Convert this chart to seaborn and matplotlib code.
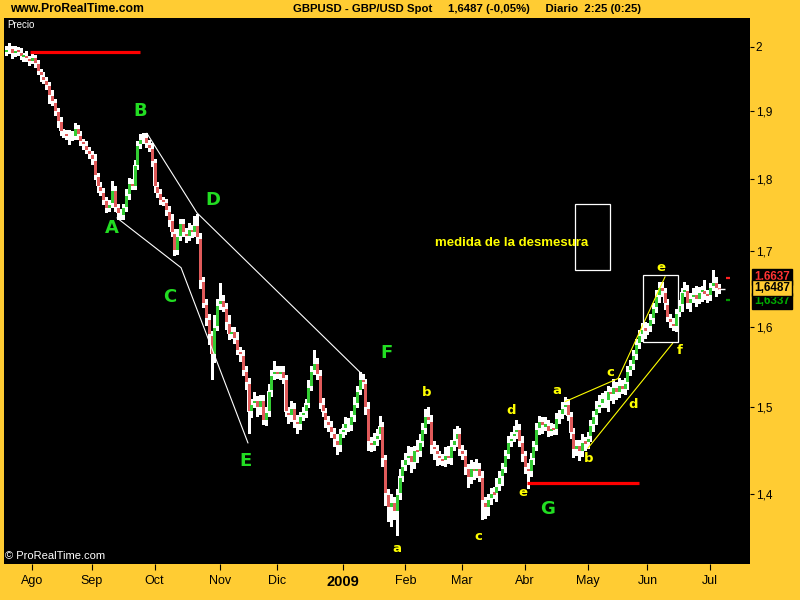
import numpy as np
import pandas as pd
import matplotlib
matplotlib.use("Agg")
import matplotlib.pyplot as plt
import matplotlib.patches as mpatches
import seaborn as sns

# ---------------- data ----------------
close = [
    1.995, 1.998, 1.990, 1.996, 1.993, 1.985, 1.988, 1.982, 1.978, 1.984,
    1.975, 1.962, 1.955, 1.948, 1.940, 1.925, 1.915, 1.900, 1.885, 1.870,
    1.867, 1.863, 1.866, 1.862, 1.875, 1.865, 1.855, 1.850, 1.842, 1.836,
    1.828, 1.805, 1.790, 1.782, 1.770, 1.758, 1.765, 1.785, 1.760, 1.752,
    1.748, 1.760, 1.778, 1.795, 1.790, 1.820, 1.850, 1.858, 1.862, 1.852,
    1.845, 1.825, 1.790, 1.780, 1.770, 1.768, 1.755, 1.742, 1.725, 1.700,
    1.720, 1.738, 1.725, 1.720, 1.730, 1.725, 1.735, 1.718, 1.660, 1.630,
    1.610, 1.590, 1.565, 1.600, 1.628, 1.635, 1.625, 1.605, 1.590, 1.595,
    1.585, 1.570, 1.565, 1.545, 1.530, 1.495, 1.505, 1.510, 1.500, 1.510,
    1.485, 1.495, 1.520, 1.540, 1.545, 1.540, 1.545, 1.535, 1.495, 1.490,
    1.500, 1.485, 1.480, 1.490, 1.495, 1.505, 1.525, 1.545, 1.555, 1.540,
    1.505, 1.495, 1.485, 1.478, 1.470, 1.462, 1.455, 1.470, 1.475, 1.482,
    1.478, 1.490, 1.505, 1.520, 1.535, 1.530, 1.500, 1.460, 1.455, 1.462,
    1.468, 1.478, 1.440, 1.400, 1.385, 1.392, 1.380, 1.400, 1.420, 1.432,
    1.440, 1.445, 1.435, 1.450, 1.448, 1.460, 1.475, 1.490, 1.485, 1.455,
    1.450, 1.445, 1.440, 1.438, 1.445, 1.440, 1.455, 1.462, 1.470, 1.450,
    1.445, 1.430, 1.418, 1.430, 1.425, 1.430, 1.420, 1.392, 1.385, 1.395,
    1.402, 1.400, 1.410, 1.420, 1.430, 1.445, 1.460, 1.465, 1.470, 1.475,
    1.460, 1.445, 1.430, 1.425, 1.440, 1.455, 1.475, 1.485, 1.478, 1.480,
    1.472, 1.476, 1.474, 1.488, 1.492, 1.500, 1.505, 1.490, 1.470, 1.450,
    1.456, 1.448, 1.460, 1.458, 1.465, 1.480, 1.490, 1.500, 1.505, 1.512,
    1.508, 1.520, 1.515, 1.525, 1.518, 1.528, 1.522, 1.530, 1.545, 1.552,
    1.565, 1.578, 1.590, 1.598, 1.596, 1.600, 1.610, 1.625, 1.640, 1.652,
    1.645, 1.630, 1.612, 1.605, 1.600, 1.618, 1.628, 1.645, 1.648, 1.630,
    1.638, 1.642, 1.635, 1.645, 1.648, 1.642, 1.640, 1.652, 1.658, 1.650,
    1.6487,
]
first_open = 1.993

# wick lengths in thousandths above / below the body
wick_up = [
    6, 8, 4, 5, 4, 6, 3, 5, 4, 5,   4, 5, 3, 6, 4, 5, 8, 4, 5, 6,
    4, 5, 6, 4, 8, 4, 5, 4, 6, 4,   5, 8, 4, 6, 5, 4, 5, 12, 5, 4,
    6, 4, 8, 6, 5, 7, 5, 8, 6, 5,   5, 8, 4, 6, 5, 5, 4, 6, 8, 5,
    9, 6, 5, 6, 8, 5, 12, 15, 6, 4, 5, 6, 4, 15, 8, 22, 6, 5, 10, 4,
    5, 8, 4, 5, 5, 6, 5, 8, 4, 5,   5, 6, 8, 6, 12, 6, 5, 5, 4, 6,
    8, 5, 6, 5, 6, 5, 8, 6, 15, 5,  5, 6, 4, 5, 6, 5, 6, 4, 5, 6,
    5, 6, 8, 6, 8, 5, 4, 6, 5, 8,   6, 12, 5, 4, 6, 8, 5, 5, 8, 6,
    6, 10, 8, 5, 12, 8, 6, 8, 10, 6, 5, 6, 4, 5, 8, 10, 6, 12, 8, 5,
    6, 5, 4, 8, 6, 10, 5, 6, 4, 5,  5, 6, 8, 6, 5, 5, 6, 6, 8, 10,
    5, 6, 4, 5, 6, 5, 6, 5, 4, 8,   5, 6, 4, 5, 5, 6, 8, 5, 4, 5,
    6, 5, 8, 5, 6, 5, 6, 8, 10, 5,  8, 6, 5, 10, 6, 8, 5, 6, 5, 6,
    5, 6, 5, 6, 8, 5, 6, 5, 8, 6,   6, 5, 5, 4, 6, 5, 6, 5, 10, 6,
    5, 8, 10, 6, 5, 12, 6, 5, 16, 6,
    5,
]
wick_dn = [
    5, 4, 8, 5, 6, 4, 8, 5, 6, 4,   6, 5, 8, 4, 6, 12, 5, 6, 8, 5,
    6, 4, 12, 5, 4, 6, 5, 6, 4, 5,  6, 5, 8, 5, 6, 5, 4, 5, 6, 8,
    5, 4, 5, 6, 5, 4, 6, 5, 5, 6,   5, 6, 8, 5, 6, 5, 6, 8, 5, 6,
    5, 6, 5, 8, 5, 6, 5, 8, 10, 5,  8, 12, 30, 10, 5, 6, 5, 8, 6, 5,
    6, 5, 8, 6, 8, 25, 6, 5, 10, 8, 5, 6, 5, 6, 5, 4, 5, 6, 5, 8,
    6, 8, 10, 6, 5, 6, 5, 4, 5, 6,  6, 5, 8, 6, 5, 8, 10, 6, 5, 6,
    6, 5, 6, 5, 4, 6, 8, 10, 6, 5,  6, 5, 8, 12, 15, 20, 8, 25, 6, 5,
    5, 6, 10, 6, 12, 5, 6, 5, 4, 8, 10, 12, 6, 5, 6, 5, 6, 5, 8, 6,
    6, 8, 10, 6, 8, 6, 5, 20, 12, 8, 6, 5, 8, 6, 10, 5, 4, 6, 5, 6,
    5, 8, 6, 18, 5, 6, 5, 6, 8, 5,  6, 5, 6, 5, 6, 5, 8, 5, 6, 8,
    6, 10, 5, 8, 6, 5, 8, 10, 6, 5, 8, 12, 6, 10, 8, 6, 5, 6, 8, 6,
    5, 6, 5, 8, 10, 5, 6, 5, 6, 8,  6, 8, 5, 6, 5, 6, 5, 8, 5, 6,
    10, 6, 8, 5, 12, 6, 8, 6, 5, 10,
    5,
]

month_labels = ["Ago", "Sep", "Oct", "Nov", "Dic", "2009",
                "Feb", "Mar", "Abr", "May", "Jun", "Jul"]
month_start_idx = [9, 30, 52, 75, 95, 118, 140, 160, 182, 204, 225, 247]

y_ticks = [1.4, 1.5, 1.6, 1.7, 1.8, 1.9, 2.0]
y_tick_labels = ["1,4", "1,5", "1,6", "1,7", "1,8", "1,9", "2"]

last_price = 1.6487
upper_mark = 1.6637
lower_mark = 1.6337

# annotation lines (index, price)
white_line1_x = [38.8, 61.3, 84.8]
white_line1_y = [1.745, 1.677, 1.458]
white_line2_x = [49.3, 66.9, 125.5]
white_line2_y = [1.867, 1.752, 1.538]
yellow_line1_x = [196.1, 214.7, 231.2]
yellow_line1_y = [1.507, 1.535, 1.665]
yellow_line2_x = [204.1, 233.9]
yellow_line2_y = [1.452, 1.579]

# ---------------- figure ----------------
GOLD = "#ffcc33"
GREEN_C = "#33cc33"
RED_C = "#e05a5a"

sns.set_style("dark", rc={"axes.facecolor": "black", "figure.facecolor": GOLD,
                          "axes.edgecolor": "black", "grid.color": "black"})
plt.rcParams["font.family"] = ["Liberation Sans Narrow", "Liberation Sans", "DejaVu Sans"]

W, H = 800, 600
fig = plt.figure(figsize=(8, 6), dpi=100)
fig.patch.set_facecolor(GOLD)
ax = fig.add_axes([4 / W, 1 - 564 / H, (750 - 4) / W, (564 - 18) / H])
ax.set_facecolor("black")


def fpx(x, y):
    return x / W, 1 - y / H


n = len(close)
idx = np.arange(n)
opn = [first_open] + close[:-1]
df = pd.DataFrame({"idx": idx, "open": opn, "close": close})
df["body_hi"] = df[["open", "close"]].max(axis=1)
df["body_lo"] = df[["open", "close"]].min(axis=1)
df["high"] = df["body_hi"] + np.array(wick_up[:n]) / 1000.0
df["low"] = df["body_lo"] - np.array(wick_dn[:n]) / 1000.0
df["up"] = df["close"] >= df["open"]

ax.vlines(df["idx"], df["low"], df["high"], color="white", lw=0.75, zorder=2,
          antialiased=False)
body_h = np.maximum(df["body_hi"] - df["body_lo"], 0.0015)
ax.bar(df["idx"], body_h, bottom=df["body_lo"], width=0.82, color="white",
       linewidth=0, zorder=3, antialiased=False)
ax.vlines(df["idx"], df["body_lo"] + 0.0018, df["body_hi"] - 0.0018,
          colors=np.where(df["up"], GREEN_C, RED_C), lw=0.75, zorder=4,
          antialiased=False)

# trend / channel lines via seaborn
for xs, ys, col in [(white_line1_x, white_line1_y, "white"),
                    (white_line2_x, white_line2_y, "white"),
                    (yellow_line1_x, yellow_line1_y, "#ffff00"),
                    (yellow_line2_x, yellow_line2_y, "#ffff00")]:
    sns.lineplot(x=xs, y=ys, ax=ax, color=col, lw=0.8, sort=False,
                 estimator=None, zorder=5)

# red horizontal lines
ax.hlines(1.992, 8.3, 46.9, color="#ff0000", lw=2.3, zorder=5)
ax.hlines(1.412, 182.7, 222.0, color="#ff0000", lw=2.3, zorder=5)

# rectangles
ax.add_patch(mpatches.Rectangle((199.6, 1.674), 12.3, 0.090, fill=False,
                                edgecolor="white", lw=0.9, zorder=5))
ax.add_patch(mpatches.Rectangle((223.4, 1.580), 12.3, 0.087, fill=False,
                                edgecolor="white", lw=0.9, zorder=5))

# last price markers
ax.hlines(last_price, n - 1 - 0.3, n + 1.3, color="white", lw=1.0, zorder=6)
ax.hlines(upper_mark, n + 1.5, n + 3.0, color="#ff2222", lw=1.6, zorder=6)
ax.hlines(lower_mark, n + 1.5, n + 3.0, color="#009900", lw=1.6, zorder=6)

ax.set_yscale("log")
ax.set_ylim(1.3238, 2.0468)
ax.set_xlim(-0.84, 261)
ax.grid(False)
ax.minorticks_off()
ax.yaxis.tick_right()
ax.set_yticks(y_ticks)
ax.set_yticklabels(y_tick_labels)
ax.set_xticks(month_start_idx)
ax.set_xticklabels(month_labels)
ax.tick_params(axis="y", which="both", right=True, left=False, length=3,
               width=0.8, color="black", pad=1, labelsize=8.5, labelcolor="black")
ax.tick_params(axis="x", which="both", bottom=True, length=4, width=0.8,
               color="black", pad=4, labelsize=9, labelcolor="black")
for lbl in ax.get_xticklabels():
    if lbl.get_text() == "2009":
        lbl.set_fontweight("bold")
        lbl.set_fontsize(10.5)
ax.set_xlabel("")
ax.set_ylabel("")
for s in ax.spines.values():
    s.set_visible(False)

# header
fig.text(*fpx(10, 9), "www.ProRealTime.com", fontsize=8.7, fontweight="bold",
         color="black", va="center", ha="left")
fig.text(*fpx(467, 9),
         "GBPUSD - GBP/USD Spot     1,6487 (-0,05%)     Diario  2:25 (0:25)",
         fontsize=8.2, fontweight="bold", color="black", va="center", ha="center")
fig.text(*fpx(7, 25), "Precio", fontsize=7, color="white", va="center", ha="left")
fig.text(*fpx(5, 556), "© ProRealTime.com", fontsize=8, color="white",
         va="center", ha="left")

# wave labels (green)
GREEN_L = "#22dd22"
for t, x, y in [("A", 112, 228), ("B", 140, 111), ("C", 170, 297), ("D", 213, 200),
                ("E", 245, 461), ("F", 387, 353), ("G", 548, 509)]:
    fig.text(*fpx(x, y), t, fontsize=13, fontweight="bold", color=GREEN_L,
             ha="center", va="center", family=["DejaVu Sans"])

# sub-wave labels (yellow)
for t, x, y in [("a", 397, 549), ("b", 427, 393), ("c", 478, 537), ("d", 511, 411),
                ("e", 523, 492), ("a", 557, 390), ("b", 589, 459), ("c", 610, 372),
                ("d", 633, 405), ("e", 661, 267), ("f", 680, 351)]:
    fig.text(*fpx(x, y), t, fontsize=9.5, fontweight="bold", color="#ffff00",
             ha="center", va="center", family=["DejaVu Sans"])

fig.text(*fpx(512, 243), "medida de la desmesura", fontsize=9.5,
         fontweight="bold", color="#ffff00", ha="center", va="center",
         family=["Liberation Sans", "DejaVu Sans"])

# right-hand price boxes
fig.text(*fpx(772, 277), "1,6637", fontsize=8.5, fontweight="bold", color="#ff3333",
         ha="center", va="center", zorder=10,
         bbox=dict(boxstyle="square,pad=0.15", fc="black", ec="black"))
fig.text(*fpx(772, 301), "1,6337", fontsize=8.5, fontweight="bold", color="#00aa00",
         ha="center", va="center", zorder=10,
         bbox=dict(boxstyle="square,pad=0.15", fc="black", ec="black"))
fig.text(*fpx(772, 288), "1,6487", fontsize=8.5, fontweight="bold", color="black",
         ha="center", va="center", zorder=11,
         bbox=dict(boxstyle="square,pad=0.2", fc=GOLD, ec="black", lw=1))

fig.savefig("out.png", dpi=100, facecolor=GOLD)
